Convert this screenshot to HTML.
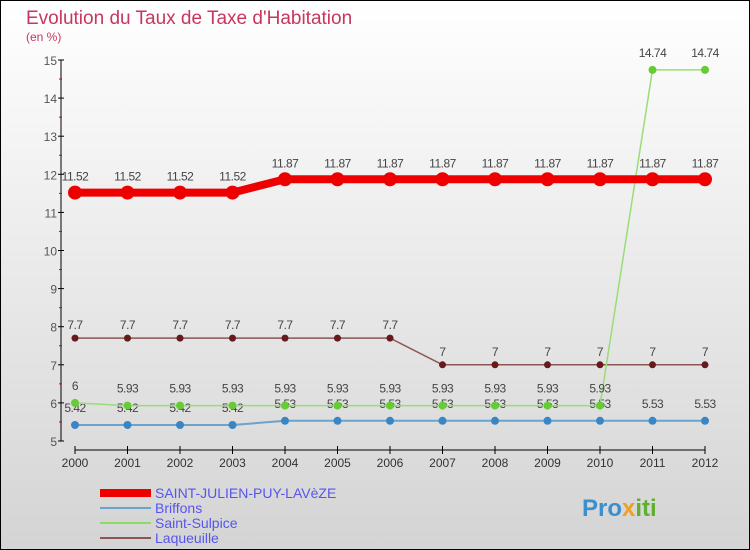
<!DOCTYPE html>
<html><head><meta charset="utf-8"><style>
body{margin:0}
svg{display:block;font-family:"Liberation Sans",sans-serif}
</style></head><body>
<svg width="750" height="550" viewBox="0 0 750 550" id="c">
<defs><linearGradient id="bg" x1="0" y1="0" x2="0" y2="1"><stop offset="0" stop-color="#ffffff"/><stop offset="1" stop-color="#d4d4d4"/></linearGradient></defs>
<rect x="0.5" y="0.5" width="749" height="549" fill="url(#bg)" stroke="#000"/>
<text x="26" y="24" font-size="19" fill="#c8365f">Evolution du Taux de Taxe d'Habitation</text>
<text x="26" y="41" font-size="12" fill="#c8365f">(en %)</text>
<g id="axes"></g><g id="series"></g>
<g>
<rect x="100" y="489" width="51" height="8" fill="#e00"/>
<text x="155" y="498" font-size="14" fill="#5555ee">SAINT-JULIEN-PUY-LAVèZE</text>
<rect x="100" y="507" width="51" height="2" fill="#6aa3cc"/>
<text x="155" y="513" font-size="14" fill="#5555ee">Briffons</text>
<rect x="100" y="522" width="51" height="2" fill="#88dd66"/>
<text x="155" y="528" font-size="14" fill="#5555ee">Saint-Sulpice</text>
<rect x="100" y="537" width="51" height="2" fill="#8b5555"/>
<text x="155" y="543" font-size="14" fill="#5555ee">Laqueuille</text>
</g>
<g><text x="582" y="516" font-size="24" font-weight="bold" fill="#3a8fd0">Pro<tspan fill="#f0a020">x</tspan><tspan fill="#60b030">iti</tspan></text></g>
</svg>
<script>
const years=[2000,2001,2002,2003,2004,2005,2006,2007,2008,2009,2010,2011,2012];
const yTicks=[5,6,7,8,9,10,11,12,13,14,15];
const stJulien=[11.52,11.52,11.52,11.52,11.87,11.87,11.87,11.87,11.87,11.87,11.87,11.87,11.87];
const briffons=[5.42,5.42,5.42,5.42,5.53,5.53,5.53,5.53,5.53,5.53,5.53,5.53,5.53];
const stSulpice=[6,5.93,5.93,5.93,5.93,5.93,5.93,5.93,5.93,5.93,5.93,14.74,14.74];
const laqueuille=[7.7,7.7,7.7,7.7,7.7,7.7,7.7,7,7,7,7,7,7];
const NS='http://www.w3.org/2000/svg';
const X=i=>75+i*52.5, Y=v=>441-(v-5)*38.1;
function mk(t,a,p){const e=document.createElementNS(NS,t);for(const k in a)e.setAttribute(k,a[k]);p.appendChild(e);return e;}
const ax=document.getElementById('axes'), sg=document.getElementById('series');
let l=mk('line',{x1:61,y1:60,x2:61,y2:441,stroke:'#000'},ax);


l=mk('line',{x1:75,y1:450,x2:705,y2:450,stroke:'#000'},ax);


yTicks.forEach(v=>{mk('line',{x1:58,y1:Y(v),x2:64,y2:Y(v),stroke:'#000'},ax);
if(v<15)mk('line',{x1:59,y1:Y(v+0.5),x2:62,y2:Y(v+0.5),stroke:'#d00'},ax);
const t=mk('text',{x:57,y:Y(v)+5,'font-size':12,fill:'#555','text-anchor':'end'},ax);t.textContent=v;

});
years.forEach((y,i)=>{mk('line',{x1:X(i),y1:446,x2:X(i),y2:454,stroke:'#000'},ax);
const t=mk('text',{x:X(i),y:467,'font-size':12,fill:'#333','text-anchor':'middle'},ax);t.textContent=y;

});
function series(d,col,w,r,dot,name,lab){
const g=mk('g',{},sg);


mk('polyline',{points:d.map((v,i)=>X(i)+','+Y(v)).join(' '),fill:'none',stroke:col,'stroke-width':w},g);
d.forEach((v,i)=>{const c=mk('circle',{cx:X(i),cy:Y(v),r:r,fill:dot},g);


const t=mk('text',{x:X(i),y:Y(v)+lab,'font-size':12,fill:'#444','text-anchor':'middle','letter-spacing':'-0.5'},g);t.textContent=v;});}
series(briffons,'#6aa3cc',2,4,'#3a86c4','series-briffons',-13);
series(laqueuille,'#8b5555',1.5,3.5,'#661a1a','series-laqueuille',-9);
series(stSulpice,'#99dd77',1.5,4,'#66cc33','series-saint-sulpice',-13);
series(stJulien,'#ee0000',8,7,'#ee0000','series-saint-julien',-12);
</script>
</body></html>
